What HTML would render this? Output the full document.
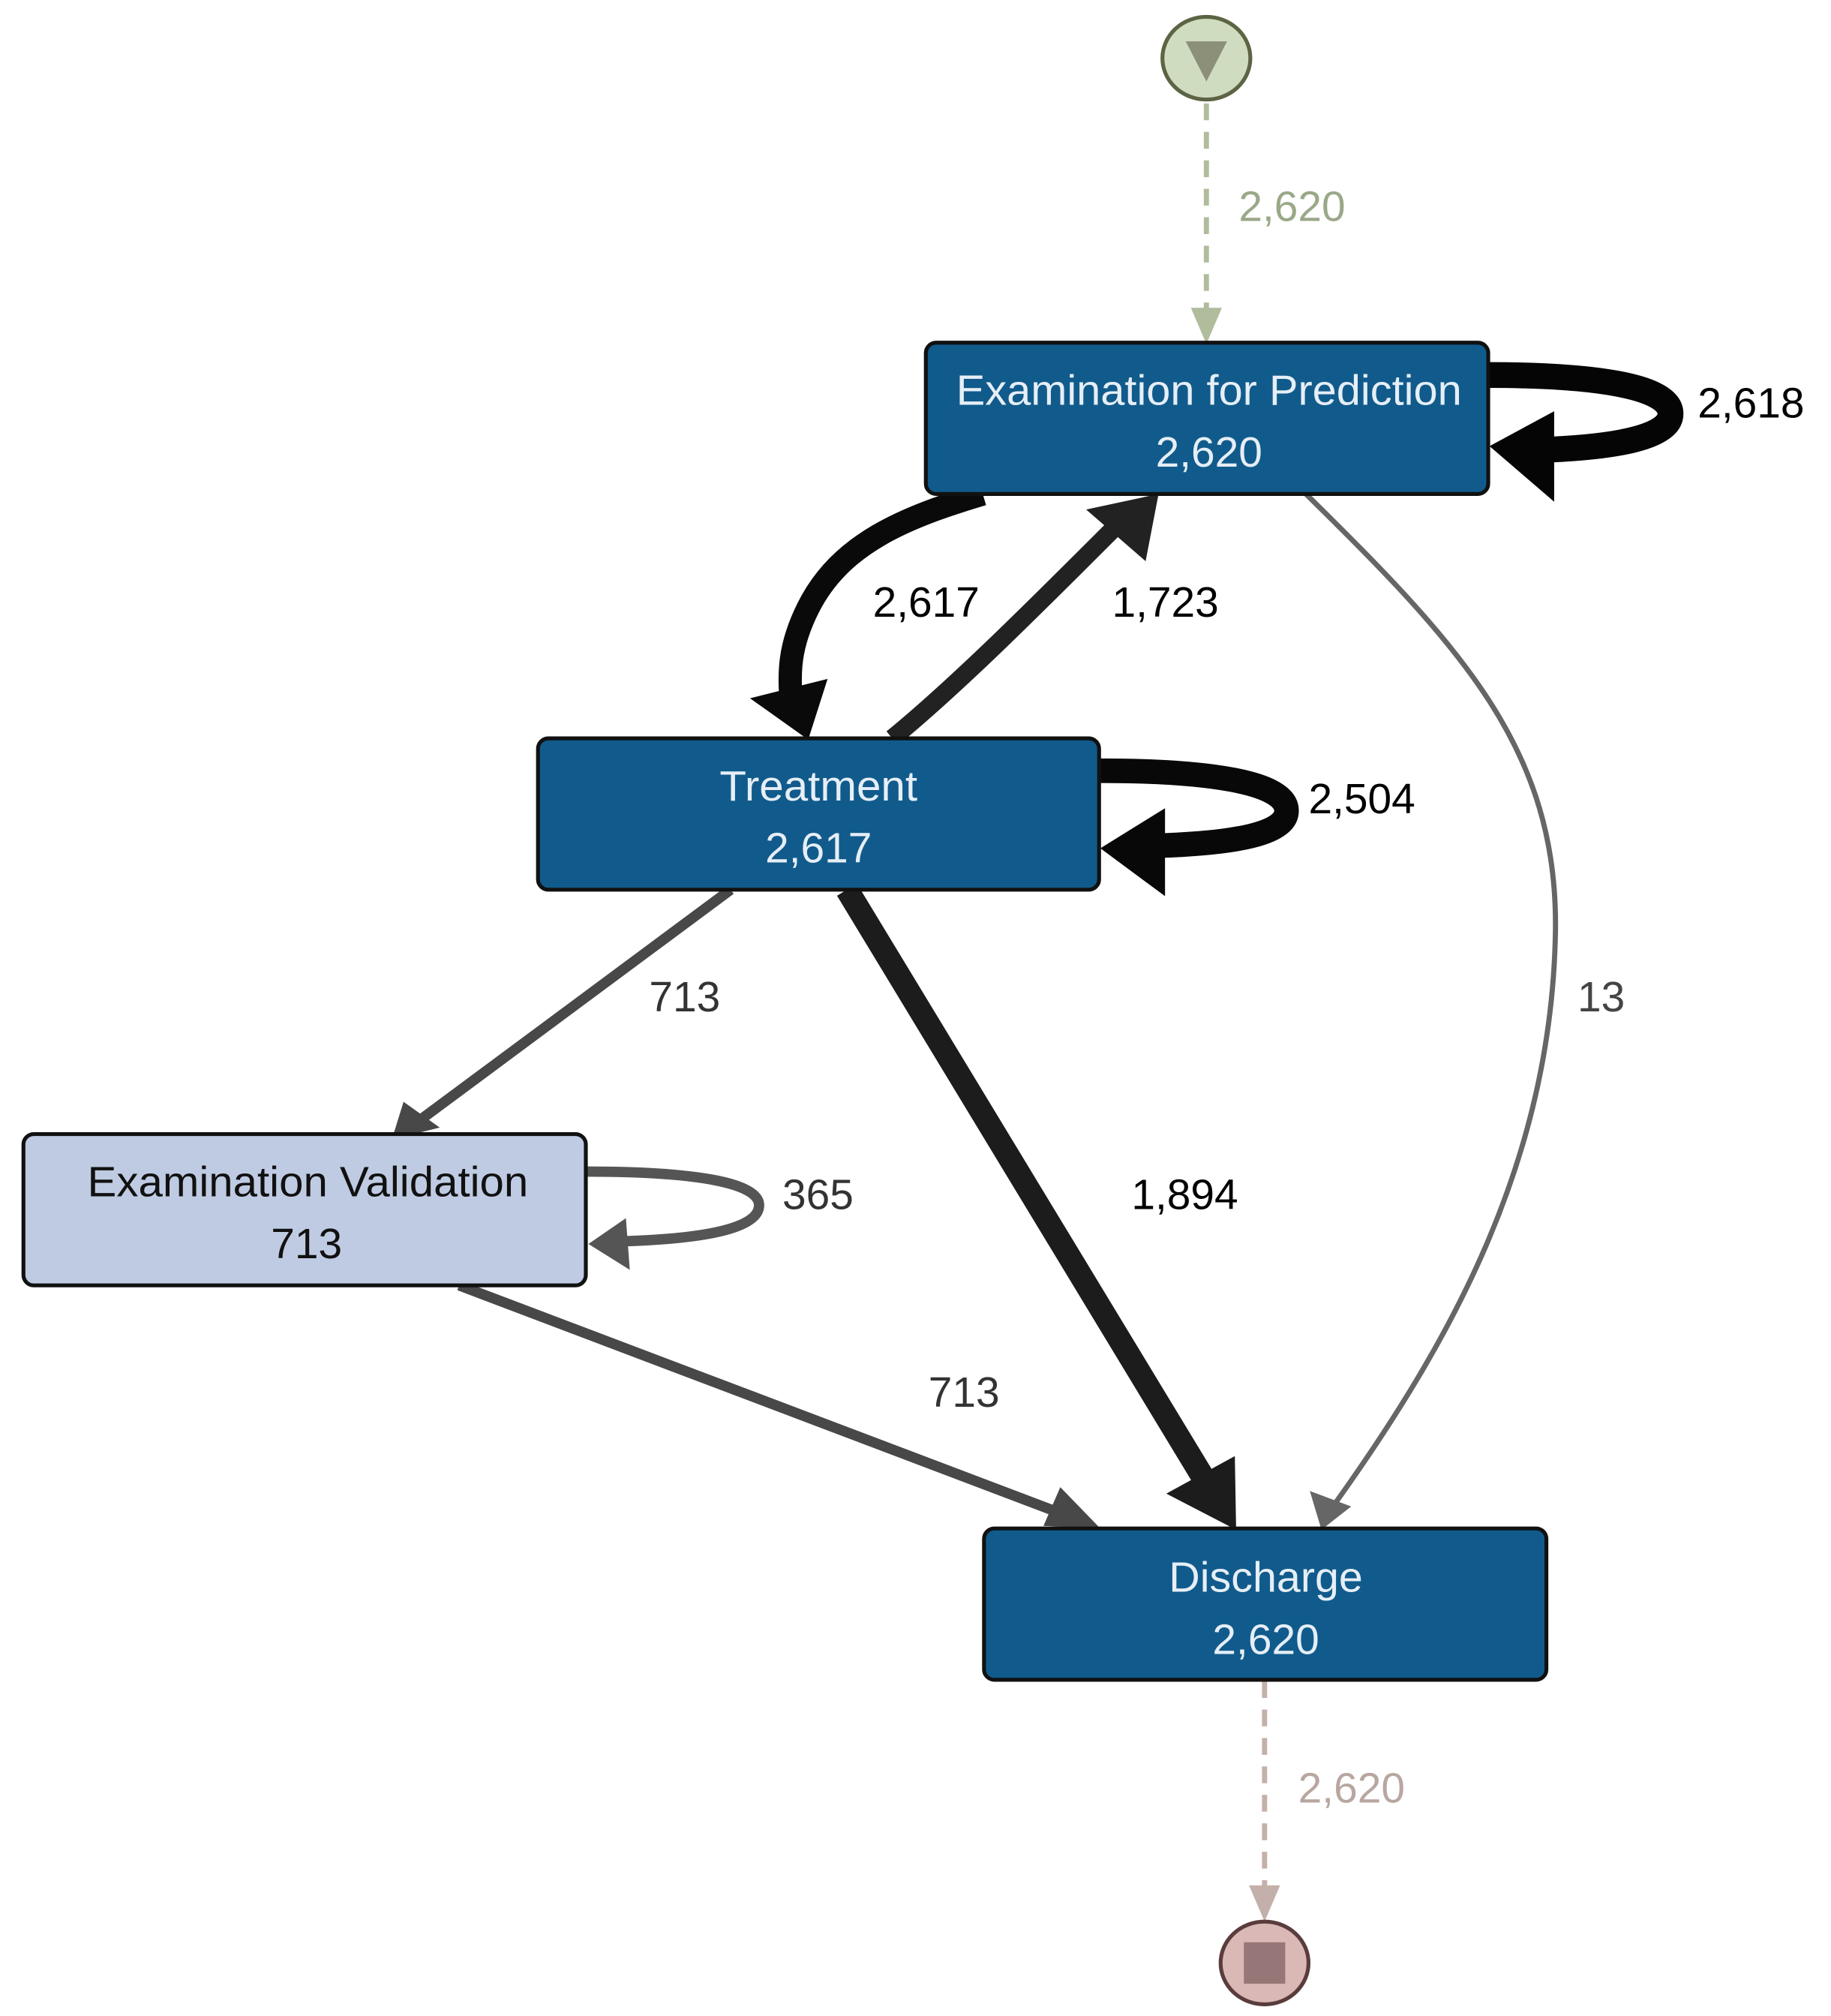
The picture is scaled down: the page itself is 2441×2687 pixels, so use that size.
<!DOCTYPE html>
<html><head><meta charset="utf-8"><style>
html,body{margin:0;padding:0;background:#fff;}
svg{display:block;}
text{font-family:"Liberation Sans",Arial,sans-serif;}
</style></head><body>
<svg width="2441" height="2687" viewBox="0 0 1416 1559" xmlns="http://www.w3.org/2000/svg">
<!-- start -->
<line x1="933" y1="80" x2="933" y2="242" stroke="#b0bc9c" stroke-width="4" stroke-dasharray="13 9"/>
<polygon points="933,266 921,238 945,238" fill="#b0bc9c"/>
<text x="958" y="171" font-size="33" fill="#9aa888">2,620</text>
<ellipse cx="933" cy="45" rx="34" ry="32" fill="#d0dcc0" stroke="#5c6444" stroke-width="3"/>
<polygon points="917,32 949,32 933,63" fill="#8c9078"/>

<!-- EP self loop -->
<path d="M1151,290 C1230,290 1292,298 1292,320 C1292,338 1250,346 1190,348" fill="none" stroke="#050505" stroke-width="20"/>
<polygon points="1152,345 1202,318 1202,388" fill="#050505"/>
<text x="1313" y="323" font-size="33" fill="#000">2,618</text>

<!-- EP -> Treatment -->
<path d="M760,382 C700,400 650,420 625,470 C610,500 610,520 612,545" fill="none" stroke="#0a0a0a" stroke-width="18"/>
<polygon points="625,572 580,540 640,525" fill="#0a0a0a"/>
<text x="675" y="477" font-size="33" fill="#000">2,617</text>

<!-- Treatment -> EP -->
<path d="M690,571 C740,530 800,470 860,410" fill="none" stroke="#222" stroke-width="14"/>
<polygon points="896,382 840,394 886,434" fill="#222"/>
<text x="860" y="477" font-size="33" fill="#000">1,723</text>

<!-- EP -> Discharge (13) -->
<path d="M1010,382 C1130,500 1205,580 1203,720 C1200,900 1120,1040 1033,1162" fill="none" stroke="#666" stroke-width="4"/>
<polygon points="1022,1183 1013,1153 1045,1165" fill="#666"/>
<text x="1220" y="782" font-size="33" fill="#444">13</text>

<!-- Treatment self loop -->
<path d="M850,596 C930,596 995,604 995,627 C995,645 955,652 895,654" fill="none" stroke="#080808" stroke-width="19"/>
<polygon points="851,656 901,625 901,693" fill="#080808"/>
<text x="1012" y="629" font-size="33" fill="#000">2,504</text>

<!-- Treatment -> ExamVal -->
<line x1="565" y1="688" x2="325" y2="866" stroke="#484848" stroke-width="8"/>
<polygon points="303,881 312,852 340,872" fill="#484848"/>
<text x="502" y="782" font-size="33" fill="#333">713</text>

<!-- Treatment -> Discharge -->
<line x1="655" y1="688" x2="935" y2="1150" stroke="#1c1c1c" stroke-width="18"/>
<polygon points="956,1183 902,1155 955,1126" fill="#1c1c1c"/>
<text x="875" y="935" font-size="33" fill="#000">1,894</text>

<!-- ExamVal self loop -->
<path d="M453,906 C540,906 587,915 587,932 C587,950 545,958 480,960" fill="none" stroke="#555" stroke-width="8"/>
<polygon points="455,962 484,942 487,982" fill="#555"/>
<text x="605" y="935" font-size="33" fill="#333">365</text>

<!-- ExamVal -> Discharge -->
<line x1="355" y1="994" x2="825" y2="1172" stroke="#484848" stroke-width="8"/>
<polygon points="851,1182 820,1150 807,1180" fill="#484848"/>
<text x="718" y="1088" font-size="33" fill="#333">713</text>

<!-- Discharge -> end -->
<line x1="978" y1="1300" x2="978" y2="1460" stroke="#c4b0aa" stroke-width="4" stroke-dasharray="13 9"/>
<polygon points="978,1486 966,1458 990,1458" fill="#c4b0aa"/>
<text x="1004" y="1394" font-size="33" fill="#b8a6a0">2,620</text>
<ellipse cx="978" cy="1518" rx="34" ry="32" fill="#d9b8b5" stroke="#5a3c3c" stroke-width="3"/>
<rect x="962" y="1502" width="32" height="32" fill="#967676"/>

<!-- nodes -->
<rect x="716" y="265" width="435" height="117" rx="8" fill="#115b8c" stroke="#111" stroke-width="3"/>
<text x="935" y="313" font-size="33" fill="#e6eef6" text-anchor="middle" textLength="391" lengthAdjust="spacingAndGlyphs">Examination for Prediction</text>
<text x="935" y="361" font-size="33" fill="#e6eef6" text-anchor="middle">2,620</text>

<rect x="416" y="571" width="434" height="117" rx="8" fill="#115b8c" stroke="#111" stroke-width="3"/>
<text x="633" y="619" font-size="33" fill="#e6eef6" text-anchor="middle" textLength="153" lengthAdjust="spacingAndGlyphs">Treatment</text>
<text x="633" y="667" font-size="33" fill="#e6eef6" text-anchor="middle">2,617</text>

<rect x="18" y="877" width="435" height="117" rx="8" fill="#bfcbe2" stroke="#111" stroke-width="3"/>
<text x="238" y="925" font-size="33" fill="#111" text-anchor="middle" textLength="341" lengthAdjust="spacingAndGlyphs">Examination Validation</text>
<text x="237" y="973" font-size="33" fill="#111" text-anchor="middle">713</text>

<rect x="761" y="1182" width="435" height="117" rx="8" fill="#115b8c" stroke="#111" stroke-width="3"/>
<text x="979" y="1231" font-size="33" fill="#e6eef6" text-anchor="middle" textLength="150" lengthAdjust="spacingAndGlyphs">Discharge</text>
<text x="979" y="1279" font-size="33" fill="#e6eef6" text-anchor="middle">2,620</text>
</svg>
</body></html>
